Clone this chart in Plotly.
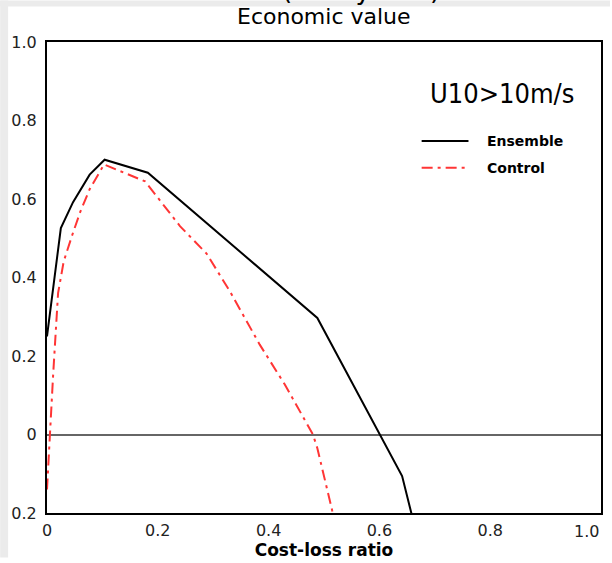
import plotly.graph_objects as go

# Cost-loss ratio vs. relative economic value, U10 > 10 m/s
ens_cl = [0.0, 0.025, 0.047, 0.077, 0.104, 0.182, 0.488, 0.641, 0.67]
ens_val = [0.25, 0.526, 0.592, 0.662, 0.70, 0.667, 0.297, -0.106, -0.27]

ctl_cl = [0.0, 0.005, 0.011, 0.02, 0.03, 0.045, 0.06, 0.077, 0.103, 0.177,
          0.24, 0.288, 0.33, 0.384, 0.429, 0.48, 0.488, 0.515, 0.525]
ctl_val = [-0.14, 0.0, 0.15, 0.36, 0.44, 0.506, 0.567, 0.625, 0.688, 0.645,
           0.531, 0.461, 0.365, 0.229, 0.128, 0.0, -0.035, -0.195, -0.24]

x_ticks = [0, 0.2, 0.4, 0.6, 0.8, 1.0]
x_labels = ["0", "0.2", "0.4", "0.6", "0.8", "1.0"]
y_ticks = [-0.2, 0, 0.2, 0.4, 0.6, 0.8, 1.0]
y_labels = ["0.2", "0", "0.2", "0.4", "0.6", "0.8", "1.0"]

W, H = 612, 563
ML, MR, MT, MB = 47, 9, 42, 45
PW, PH = W - ML - MR, H - MT - MB


def px(xp):
    return (xp - ML) / PW


def py(yp):
    return (H - MB - yp) / PH


RED = "#ff3535"
DASHDOT = "11px,5px,3px,5px"
TICKFONT = dict(family="DejaVu Sans", size=16, color="#222")

fig = go.Figure()
fig.add_trace(go.Scatter(x=ens_cl, y=ens_val, mode="lines", name="Ensemble",
                         line=dict(color="black", width=2)))
fig.add_trace(go.Scatter(x=ctl_cl, y=ctl_val, mode="lines", name="Control",
                         line=dict(color=RED, width=2, dash=DASHDOT)))

shapes = [
    # grey page strips along the top and left edges
    dict(type="rect", xref="paper", yref="paper", x0=px(0), x1=px(W),
         y0=py(6), y1=py(0), fillcolor="#ebebeb", line_width=0, layer="below"),
    dict(type="rect", xref="paper", yref="paper", x0=px(0), x1=px(8),
         y0=py(H), y1=py(0), fillcolor="#ebebeb", line_width=0, layer="below"),
    # legend samples
    dict(type="line", xref="paper", yref="paper", x0=px(423), x1=px(470),
         y0=py(142), y1=py(142), line=dict(color="black", width=2)),
    dict(type="line", xref="paper", yref="paper", x0=px(423), x1=px(470),
         y0=py(169), y1=py(169), line=dict(color=RED, width=2, dash=DASHDOT)),
]

# the last x tick label sits flush with the right frame edge
last_label = x_labels[-1]
shown_x_labels = x_labels[:-1] + [""]

annotations = [
    dict(text="(Friday 12Z)", xref="paper", yref="paper", x=px(362), y=py(7),
         xanchor="center", yanchor="bottom", showarrow=False,
         font=dict(family="DejaVu Sans", size=26, color="black")),
    dict(text="Economic value", xref="paper", yref="paper", x=0.5, y=py(16),
         xanchor="center", yanchor="middle", showarrow=False,
         font=dict(family="DejaVu Sans", size=22, color="black")),
    dict(text="U10>10m/s", xref="paper", yref="paper", x=px(504), y=py(94),
         xanchor="center", yanchor="middle", showarrow=False,
         font=dict(family="DejaVu Sans Condensed", size=27, color="black")),
    dict(text="<b>Ensemble</b>", xref="paper", yref="paper", x=px(487), y=py(142),
         xanchor="left", yanchor="middle", showarrow=False,
         font=dict(family="DejaVu Sans", size=14, color="black")),
    dict(text="<b>Control</b>", xref="paper", yref="paper", x=px(487), y=py(169),
         xanchor="left", yanchor="middle", showarrow=False,
         font=dict(family="DejaVu Sans", size=14, color="black")),
    dict(text=last_label, xref="x", yref="paper", x=x_ticks[-1], y=py(525),
         xanchor="right", yanchor="top", showarrow=False,
         font=TICKFONT),
]

fig.update_layout(
    width=W, height=H,
    margin=dict(l=ML, r=MR, t=MT, b=MB),
    paper_bgcolor="white", plot_bgcolor="white",
    showlegend=False,
    shapes=shapes, annotations=annotations,
    xaxis=dict(range=[0, 1], tickvals=x_ticks, ticktext=shown_x_labels,
               showline=True, mirror=True, linecolor="black", linewidth=2,
               showgrid=False, zeroline=False, ticks="outside", ticklen=2,
               tickcolor="rgba(0,0,0,0)", tickfont=TICKFONT,
               title=dict(text="<b>Cost-loss ratio</b>", standoff=2,
                          font=dict(family="DejaVu Sans", size=17, color="black"))),
    yaxis=dict(range=[-0.2, 1.0], tickvals=y_ticks, ticktext=y_labels,
               showline=True, mirror=True, linecolor="black", linewidth=2,
               showgrid=False, zeroline=True, zerolinecolor="#666",
               zerolinewidth=1.5, ticks="outside", ticklen=5,
               tickcolor="rgba(0,0,0,0)", tickfont=TICKFONT),
)

fig.write_html("out.html")
